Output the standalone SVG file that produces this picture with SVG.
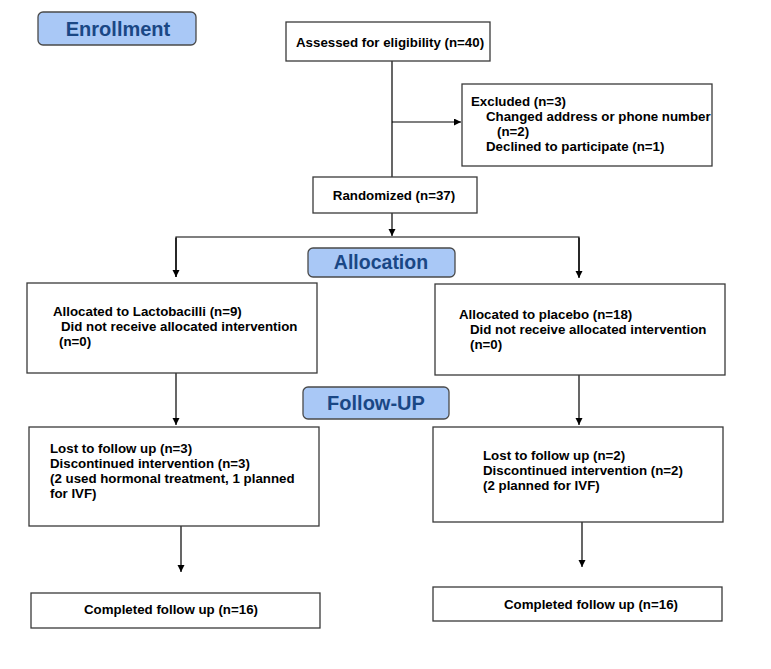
<svg xmlns="http://www.w3.org/2000/svg" width="771" height="669" viewBox="0 0 771 669">
<defs>
<marker id="ah" markerUnits="userSpaceOnUse" markerWidth="8" markerHeight="8" refX="7" refY="3.5" orient="auto">
<path d="M0,0 L7,3.5 L0,7 z" fill="#000"/>
</marker>
<style>
.box{fill:#fff;stroke:#3a3a3a;stroke-width:1.3}
.hdr{fill:#a9c8f6;stroke:#4a4a4a;stroke-width:1.3}
.t{font-family:"Liberation Sans",Arial,sans-serif;font-size:13.3px;font-weight:bold;fill:#000}
.h{font-family:"Liberation Sans",Arial,sans-serif;font-size:20px;font-weight:bold;fill:#1a4785;text-anchor:middle}
.c{fill:none;stroke:#000;stroke-width:1.2}
.a{fill:none;stroke:#000;stroke-width:1.2;marker-end:url(#ah)}
</style>
</defs>
<rect width="771" height="669" fill="#fff"/>
<g id="connectors">
<line class="c" x1="392" y1="61" x2="392" y2="177"/>
<line class="a" x1="392" y1="122" x2="461" y2="122"/>
<line class="a" x1="392" y1="213" x2="392" y2="236"/>
<polyline class="c" points="176,277 176,237 579,237 579,277"/>
<line class="a" x1="176" y1="238" x2="176" y2="277"/>
<line class="a" x1="579" y1="238" x2="579" y2="278"/>
<line class="a" x1="176" y1="373" x2="176" y2="425"/>
<line class="a" x1="579" y1="375" x2="579" y2="425"/>
<line class="a" x1="181" y1="526" x2="181" y2="572"/>
<line class="a" x1="582" y1="522" x2="582" y2="567"/>
</g>
<g id="enrollment">
<rect class="hdr" x="38" y="12" width="158" height="33" rx="5"/>
<text class="h" x="118" y="36">Enrollment</text>
</g>
<g id="assessed">
<rect class="box" x="286" y="22" width="204" height="39"/>
<text class="t" x="296" y="47">Assessed for eligibility (n=40)</text>
</g>
<g id="excluded">
<rect class="box" x="462" y="84" width="250" height="82"/>
<text class="t" x="471" y="106">Excluded (n=3)</text>
<text class="t" x="486" y="121">Changed address or phone number</text>
<text class="t" x="497" y="136">(n=2)</text>
<text class="t" x="486" y="151">Declined to participate (n=1)</text>
</g>
<g id="randomized">
<rect class="box" x="313" y="177" width="164" height="36"/>
<text class="t" x="394" y="200" text-anchor="middle">Randomized (n=37)</text>
</g>
<g id="allocation">
<rect class="hdr" x="308" y="248" width="147" height="29" rx="5"/>
<text class="h" x="381" y="269" style="font-size:19.5px">Allocation</text>
</g>
<g id="alloc-lacto">
<rect class="box" x="27" y="283" width="290" height="90"/>
<text class="t" x="53" y="316">Allocated to Lactobacilli (n=9)</text>
<text class="t" x="61" y="331">Did not receive allocated intervention</text>
<text class="t" x="59" y="346">(n=0)</text>
</g>
<g id="alloc-placebo">
<rect class="box" x="435" y="284" width="290" height="91"/>
<text class="t" x="459" y="319">Allocated to placebo (n=18)</text>
<text class="t" x="470" y="334">Did not receive allocated intervention</text>
<text class="t" x="470" y="349">(n=0)</text>
</g>
<g id="followup">
<rect class="hdr" x="303" y="387" width="146" height="32" rx="5"/>
<text class="h" x="376" y="410">Follow-UP</text>
</g>
<g id="fu-lacto">
<rect class="box" x="29" y="427" width="290" height="99"/>
<text class="t" x="50" y="453">Lost to follow up (n=3)</text>
<text class="t" x="50" y="468">Discontinued intervention (n=3)</text>
<text class="t" x="50" y="483">(2 used hormonal treatment, 1 planned</text>
<text class="t" x="50" y="498">for IVF)</text>
</g>
<g id="fu-placebo">
<rect class="box" x="433" y="427" width="290" height="95"/>
<text class="t" x="483" y="460">Lost to follow up (n=2)</text>
<text class="t" x="483" y="475">Discontinued intervention (n=2)</text>
<text class="t" x="483" y="490">(2 planned for IVF)</text>
</g>
<g id="completed-lacto">
<rect class="box" x="31" y="593" width="289" height="35"/>
<text class="t" x="171" y="614" text-anchor="middle">Completed follow up (n=16)</text>
</g>
<g id="completed-placebo">
<rect class="box" x="433" y="587" width="289" height="34"/>
<text class="t" x="504" y="609">Completed follow up (n=16)</text>
</g>
</svg>
